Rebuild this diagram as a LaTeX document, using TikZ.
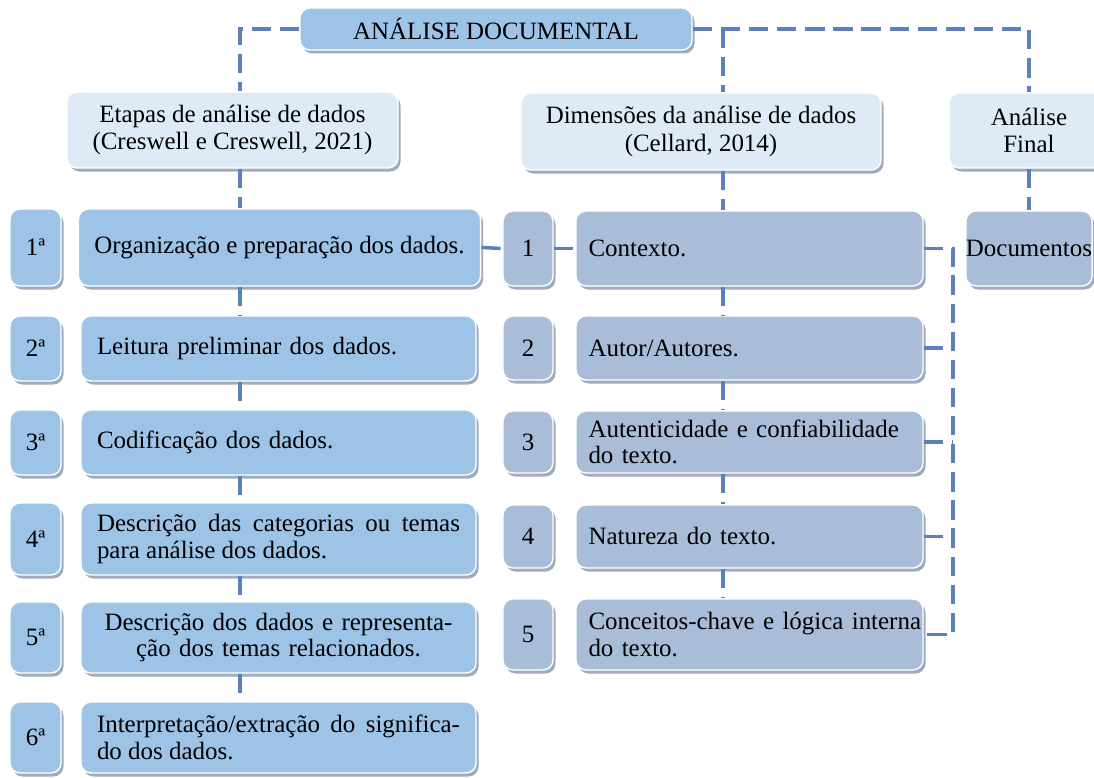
\documentclass[tikz,border=0pt]{standalone}
\usepackage{fontspec}
\setmainfont{Liberation Serif}
\usetikzlibrary{positioning,shadows}

\definecolor{titleBlue}{RGB}{157,195,230}
\definecolor{headBlue}{RGB}{222,235,247}
\definecolor{dimBlue}{RGB}{169,189,217}
\definecolor{linkBlue}{RGB}{91,128,186}
\definecolor{shadowGray}{RGB}{150,162,182}

\begin{document}
\begin{tikzpicture}[node distance=2cm,auto]
  \useasboundingbox (0,0) rectangle (21.88,-15.56);
  \tikzset{
    box/.style={rectangle,rounded corners=2mm,draw=white,line width=0.8pt,
      drop shadow={shadow xshift=0.05cm,shadow yshift=-0.07cm,fill=shadowGray,opacity=.9},
      font=\fontsize{14.2}{15}\selectfont},
    mainTitle/.style={box,fill=titleBlue,minimum width=7.84cm,minimum height=0.84cm},
    header/.style={box,fill=headBlue,align=center,inner sep=0pt,font=\fontsize{14.2}{15.5}\selectfont},
    stage/.style={box,fill=titleBlue,text width=7.26cm,inner xsep=0.32cm,align=left,minimum height=1.3cm},
    stageNum/.style={box,fill=titleBlue,minimum width=1.02cm,inner sep=0pt,minimum height=1.3cm},
    dimension/.style={box,fill=dimBlue,text width=6.44cm,inner xsep=0.25cm,align=left,minimum height=1.3cm},
    dimNum/.style={box,fill=dimBlue,minimum width=1.0cm,inner sep=0pt,minimum height=1.3cm},
    % edge styles
    numDist/.style={node distance=4.86cm},
    dimNumDist/.style={node distance=4.43cm},
    link/.style={draw=linkBlue,line width=2pt,dash pattern=on 11pt off 5pt}
  }

  %% Top
  \node [mainTitle] (title) at (9.92,-0.58) {ANÁLISE DOCUMENTAL};
  \node [header, minimum width=6.62cm, minimum height=1.52cm] (etapas) at (4.65,-2.6)
    {Etapas de análise de dados\\(Creswell e Creswell, 2021)};
  \node [header, minimum width=7.2cm, minimum height=1.54cm] (dimensoes) at (14.02,-2.63)
    {Dimensões da análise de dados\\(Cellard, 2014)};
  \node [header, minimum width=3.2cm, minimum height=1.5cm] (analiseFinal) at (20.58,-2.61)
    {Análise\\Final};

  %% Etapas de analise
  \node [stage, text width=, minimum width=7.94cm, minimum height=1.54cm] (org) at (5.59,-4.95)
    {Organização e preparação dos dados.};
  \node [stageNum, minimum height=1.54cm] (n1) [left of=org, node distance=4.88cm] {1ª};

  \node [stage] (leit) [below of=org, node distance=2.02cm, xshift=-0.02cm] {Leitura preliminar dos dados.};
  \node [stageNum, numDist] (n2) [left of=leit] {2ª};

  \node [stage] (cod) [below of=leit, node distance=1.88cm] {Codificação dos dados.};
  \node [stageNum, numDist] (n3) [left of=cod] {3ª};

  \node [stage, align=justify, minimum height=1.44cm] (desc) [below of=cod, node distance=1.93cm]
    {Descrição das categorias ou temas\linebreak para análise dos dados.};
  \node [stageNum, numDist, minimum height=1.44cm] (n4) [left of=desc] {4ª};

  \node [stage, align=center, minimum height=1.42cm] (repr) [below of=desc, node distance=1.97cm]
    {Descrição dos dados e representa-\\ção dos temas relacionados.};
  \node [stageNum, numDist, minimum height=1.42cm] (n5) [left of=repr] {5ª};

  \node [stage, align=justify, minimum height=1.42cm] (interp) [below of=repr, node distance=2cm]
    {Interpretação/extração do significa-\linebreak do dos dados.};
  \node [stageNum, numDist, minimum height=1.42cm] (n6) [left of=interp] {6ª};

  %% Dimensoes
  \node [dimension, minimum height=1.5cm] (ctx) at (14.99,-4.97) {Contexto.};
  \node [dimNum, dimNumDist, minimum height=1.5cm] (m1) [left of=ctx] {1};

  \node [dimension, minimum height=1.28cm] (aut) [below of=ctx, node distance=1.99cm] {Autor/Autores.};
  \node [dimNum, dimNumDist, minimum height=1.28cm] (m2) [left of=aut] {2};

  \node [dimension, minimum height=1.24cm] (autent) [below of=aut, node distance=1.88cm]
    {Autenticidade e confiabilidade\\do texto.};
  \node [dimNum, dimNumDist, minimum height=1.24cm] (m3) [left of=autent] {3};

  \node [dimension, minimum height=1.26cm] (nat) [below of=autent, node distance=1.89cm] {Natureza do texto.};
  \node [dimNum, dimNumDist, minimum height=1.26cm] (m4) [left of=nat] {4};

  \node [dimension, minimum height=1.42cm] (conc) [below of=nat, node distance=1.96cm]
    {\mbox{Conceitos-chave e lógica interna}\\do texto.};
  \node [dimNum, dimNumDist, minimum height=1.42cm] (m5) [left of=conc] {5};

  %% Analise final
  \node [box, fill=dimBlue, minimum width=2.52cm, minimum height=1.5cm, inner sep=0pt] (docs)
    [below of=analiseFinal, node distance=2.36cm] {Documentos};

  %% Links
  \coordinate [left of=title, node distance=5.12cm] (etapasAxis);
  \coordinate [right of=title, node distance=4.54cm] (dimAxis);
  \coordinate [right of=ctx, node distance=4.07cm] (bracket);

  \draw [link] (title.west) -| (etapasAxis |- etapas.north);
  \draw [link] (title.east) -| (analiseFinal.north);
  \draw [link] (dimAxis) -- (dimAxis |- dimensoes.north);

  \draw [link] (etapas.south -| etapasAxis) -- (org.north -| etapasAxis);
  \draw [link] (org.south -| etapasAxis) -- (leit.north -| etapasAxis);
  \draw [link] (leit.south -| etapasAxis) -- (cod.north -| etapasAxis);
  \draw [link] (cod.south -| etapasAxis) -- (desc.north -| etapasAxis);
  \draw [link] (desc.south -| etapasAxis) -- (repr.north -| etapasAxis);
  \draw [link] (repr.south -| etapasAxis) -- (interp.north -| etapasAxis);

  \draw [link] (org.east) -- (m1.west);
  \draw [link] (m1.east) -- (ctx.west);

  \draw [link] (dimensoes.south -| dimAxis) -- (ctx.north -| dimAxis);
  \draw [link] (ctx.south -| dimAxis) -- (aut.north -| dimAxis);
  \draw [link] (aut.south -| dimAxis) -- (autent.north -| dimAxis);
  \draw [link] (autent.south -| dimAxis) -- (nat.north -| dimAxis);
  \draw [link] (nat.south -| dimAxis) -- (conc.north -| dimAxis);

  \draw [link] (ctx.east) -- (bracket) -- (conc.east -| bracket) -- (conc.east);
  \draw [link] (aut.east) -- (aut.east -| bracket);
  \draw [link] (autent.east) -- (autent.east -| bracket);
  \draw [link] (nat.east) -- (nat.east -| bracket);

  \draw [link] (analiseFinal.south) -- (analiseFinal.south |- docs.north);

\end{tikzpicture}
\end{document}
